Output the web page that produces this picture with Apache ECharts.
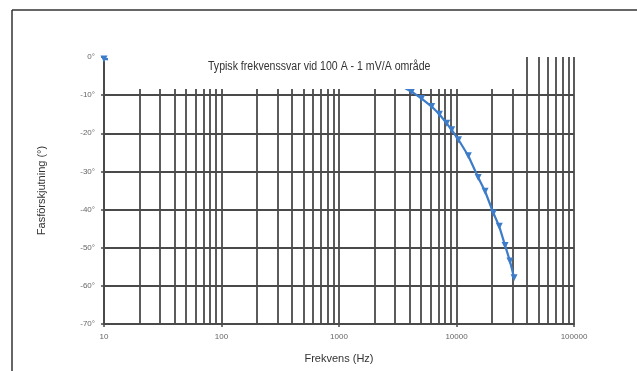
<!DOCTYPE html>
<html>
<head>
<meta charset="utf-8">
<script src="https://cdn.jsdelivr.net/npm/echarts@6/dist/echarts.min.js"></script>
<style>
html,body{margin:0;padding:0;background:#fff;}
#chart{width:637px;height:371px;}
</style>
</head>
<body>
<div id="chart"></div>
<script>
// Data
var frequencies = [10, 3300, 4150, 5050, 6150, 7150, 8250, 9100, 10400, 12600, 15300, 17500, 20600, 23100, 25900, 28500, 30900];
var phaseDeg = [-0.5, -7.4, -9.1, -10.9, -13.0, -15.0, -17.4, -19.1, -21.7, -25.9, -31.6, -35.2, -40.9, -44.4, -49.4, -53.5, -57.9];
var xTickLabels = [10, 100, 1000, 10000, 100000];
var minorGridFreqs = [20,30,40,50,60,70,80,90,200,300,400,500,600,700,800,900,2000,3000,4000,5000,6000,7000,8000,9000,20000,30000,40000,50000,60000,70000,80000,90000];
var hGridDegs = [-10, -20, -30, -40, -50, -60];
var titleText = 'Typisk frekvenssvar vid 100 A - 1 mV/A område';
var xTitle = 'Frekvens (Hz)';
var yTitle = 'Fasförskjutning (°)';

var FONT = '"Liberation Sans Narrow", "Liberation Sans", Arial, sans-serif';
var GRID = '#4a4a4a';

var chart = echarts.init(document.getElementById('chart'), null, {renderer: 'canvas'});
var seriesData = frequencies.map(function (f, i) { return [f, phaseDeg[i]]; });
var gridLines = minorGridFreqs.map(function (f) { return {xAxis: f}; })
  .concat(hGridDegs.map(function (d) { return {yAxis: d}; }));

var option = {
  backgroundColor: '#ffffff',
  animation: false,
  grid: {left: 104, right: 63, top: 57, bottom: 47},
  xAxis: {
    type: 'log', logBase: 10, min: 10, max: 100000, position: 'bottom',
    name: xTitle, nameLocation: 'middle', nameGap: 29,
    nameTextStyle: {fontFamily: FONT, fontSize: 11, color: '#333'},
    axisLine: {show: true, onZero: false, lineStyle: {color: GRID, width: 2}},
    axisTick: {show: true, length: 3, lineStyle: {color: GRID, width: 1.5}},
    axisLabel: {fontFamily: FONT, fontSize: 8, color: '#666', margin: 9,
      formatter: function (v) { return xTickLabels.indexOf(Math.round(v)) >= 0 ? String(Math.round(v)) : ''; }},
    splitLine: {show: true, lineStyle: {color: GRID, width: 1.8}}
  },
  yAxis: {
    type: 'value', min: -70, max: 0, interval: 10, position: 'left',
    name: yTitle, nameLocation: 'middle', nameGap: 57, nameRotate: 90,
    nameTextStyle: {fontFamily: FONT, fontSize: 11, color: '#333'},
    axisLine: {show: true, onZero: false, lineStyle: {color: GRID, width: 2}},
    axisTick: {show: true, length: 3, lineStyle: {color: GRID, width: 1.5}},
    axisLabel: {fontFamily: FONT, fontSize: 8, color: '#666', margin: 9,
      formatter: function (v) { return v + '°'; }},
    splitLine: {show: false}
  },
  series: [
    {
      type: 'line', data: [], silent: true, z: 1,
      markLine: {
        silent: true, symbol: ['none', 'none'],
        label: {show: false},
        lineStyle: {color: GRID, width: 1.8, type: 'solid'},
        data: gridLines
      }
    },
    {
      type: 'line', data: seriesData, z: 5,
      lineStyle: {color: '#3d7cc9', width: 2.2},
      itemStyle: {color: '#3d7cc9'},
      symbol: 'triangle', symbolRotate: 180, symbolSize: 7, showSymbol: true
    }
  ],
  graphic: [
    {type: 'line', z: 100, shape: {x1: 12, y1: 10, x2: 637, y2: 10}, style: {stroke: '#333', lineWidth: 1.5}},
    {type: 'line', z: 100, shape: {x1: 12, y1: 10, x2: 12, y2: 371}, style: {stroke: '#333', lineWidth: 1.5}},
    {type: 'rect', z: 50, shape: {x: 108, y: 48, width: 412, height: 41}, style: {fill: '#ffffff'}},
    {type: 'text', z: 60, x: 208, y: 61, scaleX: 0.88,
      style: {text: titleText, font: '12px ' + FONT, fill: '#333'}}
  ]
};
chart.setOption(option);
</script>
</body>
</html>
